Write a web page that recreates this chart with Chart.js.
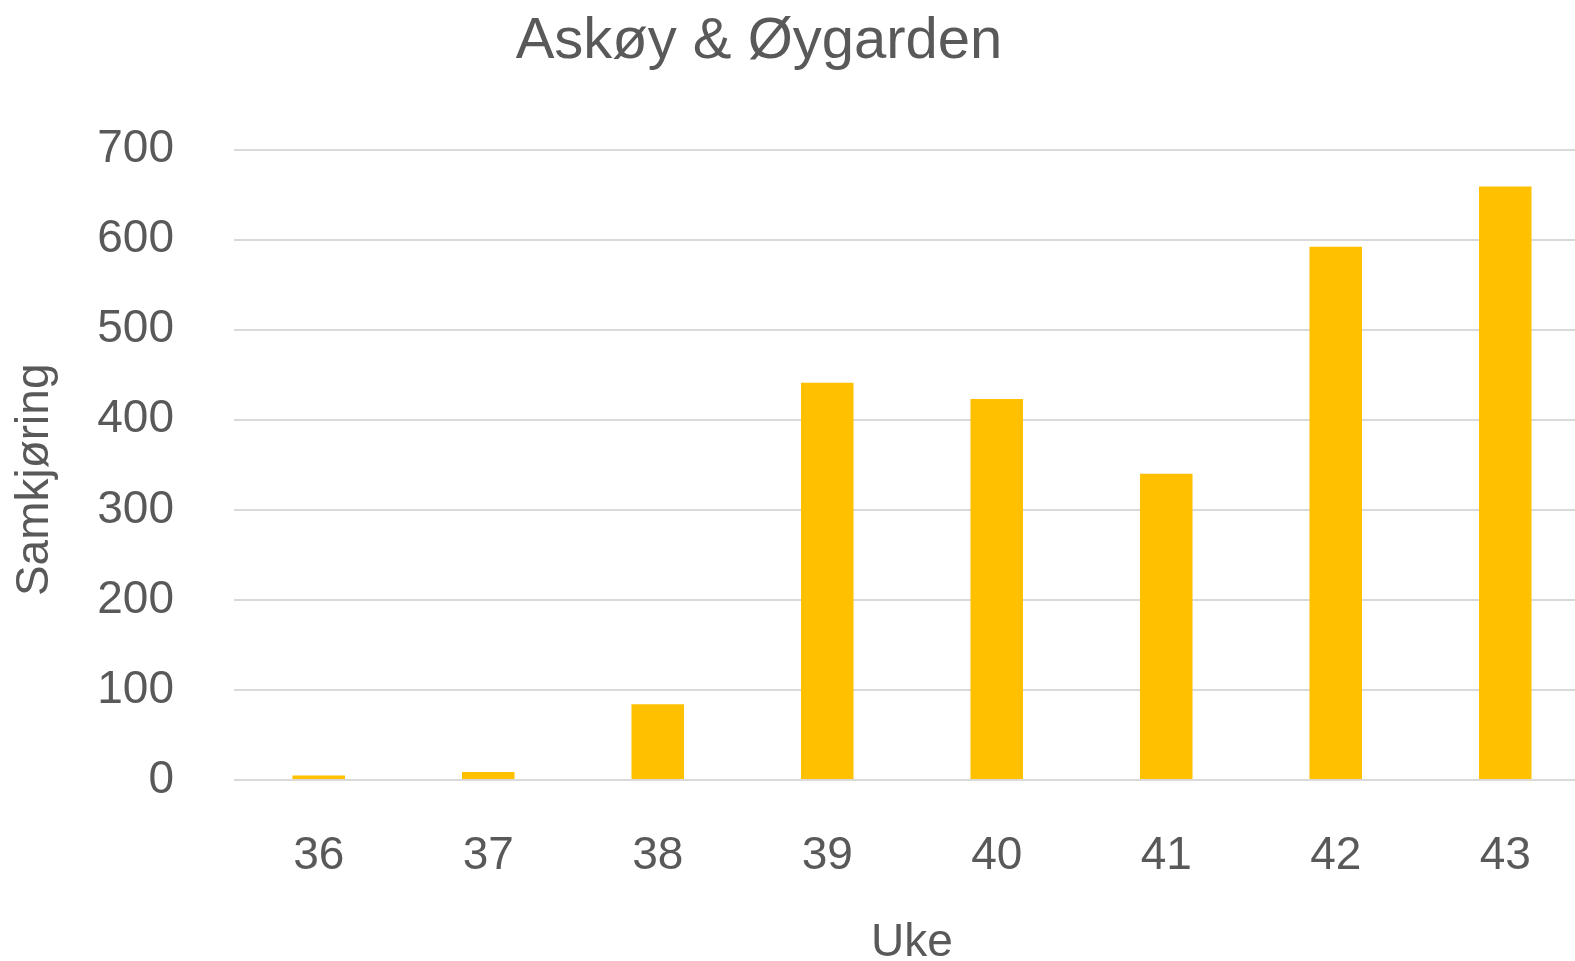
<!DOCTYPE html>
<html>
<head>
<meta charset="utf-8">
<script src="https://cdn.jsdelivr.net/npm/chart.js@4.4.1/dist/chart.umd.min.js"></script>
<style>
  html, body { margin: 0; padding: 0; background: #ffffff; overflow: hidden; }
  #wrap { width: 1590px; height: 961px; position: relative; }
</style>
</head>
<body>
<div id="wrap"><canvas id="c"></canvas></div>
<script>
const weeks = ['36', '37', '38', '39', '40', '41', '42', '43'];
const samkjoring = [5, 9, 84, 441, 423, 340, 592, 659];
const yTicks = [0, 100, 200, 300, 400, 500, 600, 700];
const chartTitle = 'Askøy & Øygarden';
const xTitle = 'Uke';
const yTitle = 'Samkjøring';

const FONT = '"Liberation Sans", Arial, Helvetica, sans-serif';
const TXT = '#595959';

const titleShift = {
  id: 'titleShift',
  afterLayout(chart) {
    const t = chart.titleBlock;
    if (t) { t.left = 0; t.right = 1518; t.width = 1518; }
    const s = chart.scales.y;
    if (s && !s._shifted) {
      const orig = s.drawTitle;
      s.drawTitle = function () {
        const ctx = this.ctx;
        ctx.save();
        ctx.translate(0, 15);
        orig.call(this);
        ctx.restore();
      };
      s._shifted = true;
    }
  }
};

new Chart(document.getElementById('c'), {
  type: 'bar',
  data: {
    labels: weeks,
    datasets: [{
      label: yTitle,
      data: samkjoring,
      backgroundColor: '#FFC000',
      borderWidth: 0,
      barPercentage: 0.31,
      categoryPercentage: 1.0
    }]
  },
  options: {
    responsive: true,
    maintainAspectRatio: false,
    animation: false,
    layout: { padding: { left: 8, right: 0, top: 0, bottom: 0 } },
    plugins: {
      legend: { display: false },
      tooltip: { enabled: false },
      title: {
        display: true,
        text: chartTitle,
        color: TXT,
        font: { family: FONT, size: 58, weight: 'normal', lineHeight: 1.2 },
        padding: { top: 7, bottom: 73 }
      }
    },
    scales: {
      x: {
        afterFit(scale) { scale.height = 181; },
        grid: { display: false, drawTicks: false },
        border: { display: false },
        ticks: {
          color: TXT,
          padding: 49,
          font: { family: FONT, size: 46, lineHeight: 1.2 }
        },
        title: {
          display: true,
          text: xTitle,
          color: TXT,
          font: { family: FONT, size: 46, lineHeight: 0.75 },
          padding: { top: 0, bottom: 0 }
        }
      },
      y: {
        min: 0,
        max: 700,
        afterFit(scale) { scale.width = 226; },
        afterBuildTicks(scale) { scale.ticks = yTicks.map(v => ({ value: v })); },
        grid: { color: '#d9d9d9', lineWidth: 2, drawTicks: false },
        border: { display: false },
        ticks: {
          color: TXT,
          padding: 60,
          font: { family: FONT, size: 46, lineHeight: 1.2 }
        },
        title: {
          display: true,
          text: yTitle,
          color: TXT,
          font: { family: FONT, size: 46, lineHeight: 1.2 },
          padding: { top: 0, bottom: 0 }
        }
      }
    }
  },
  plugins: [titleShift]
});
</script>
</body>
</html>
